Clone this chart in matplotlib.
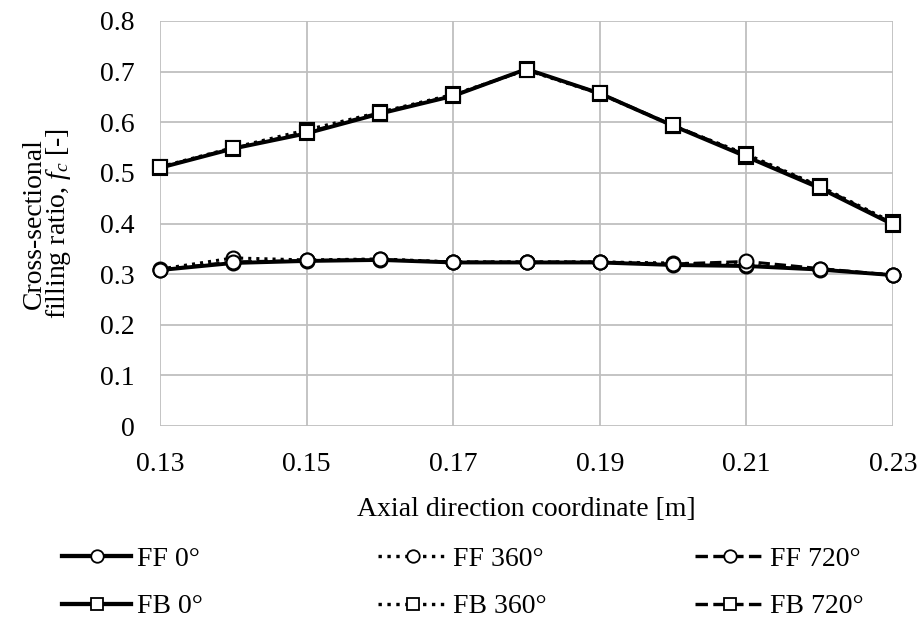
import matplotlib
matplotlib.use("Agg")
import matplotlib.pyplot as plt

plt.rcParams["font.family"] = ["Liberation Serif", "DejaVu Serif"]
plt.rcParams["mathtext.fontset"] = "custom"
plt.rcParams["mathtext.rm"] = "Liberation Serif"
plt.rcParams["mathtext.it"] = "Liberation Serif:italic"

# axial positions [m]
x = [0.13, 0.14, 0.15, 0.16, 0.17, 0.18, 0.19, 0.20, 0.21, 0.22, 0.23]

ff_0 = [0.308, 0.322, 0.326, 0.328, 0.323, 0.323, 0.323, 0.318, 0.316, 0.309, 0.298]
ff_360 = [0.310, 0.332, 0.328, 0.330, 0.324, 0.324, 0.324, 0.322, 0.318, 0.310, 0.298]
ff_720 = [0.309, 0.324, 0.327, 0.329, 0.324, 0.324, 0.324, 0.320, 0.325, 0.311, 0.298]

fb_0 = [0.510, 0.548, 0.578, 0.617, 0.652, 0.705, 0.657, 0.593, 0.532, 0.470, 0.398]
fb_360 = [0.512, 0.550, 0.585, 0.620, 0.655, 0.703, 0.656, 0.593, 0.537, 0.474, 0.402]
fb_720 = [0.511, 0.549, 0.580, 0.619, 0.653, 0.704, 0.657, 0.594, 0.535, 0.473, 0.400]

labels = ["FF 0°", "FF 360°", "FF 720°", "FB 0°", "FB 360°", "FB 720°"]

FS = 20
fig = plt.figure(figsize=(9.2, 6.2), dpi=100)
ax = fig.add_axes([160 / 920, 1 - 426 / 620, (893 - 160) / 920, (426 - 21) / 620])

styles = [
    (ff_0, "o", "-", 2.8),
    (ff_360, "o", ":", 2.2),
    (ff_720, "o", "--", 2.2),
    (fb_0, "s", "-", 2.8),
    (fb_360, "s", ":", 2.2),
    (fb_720, "s", "--", 2.2),
]
for (ys, mk, ls, lw), lab in zip(styles, labels):
    ax.plot(x, ys, color="black", linestyle=ls, linewidth=lw, marker=mk,
            markersize=10, markerfacecolor="white", markeredgecolor="black",
            markeredgewidth=1.5, label=lab, zorder=3, clip_on=False)

ax.set_xlim(0.13, 0.23)
ax.set_ylim(0, 0.8)
ax.set_xticks([0.13, 0.15, 0.17, 0.19, 0.21, 0.23])
ax.set_xticklabels(["0.13", "0.15", "0.17", "0.19", "0.21", "0.23"])
ax.set_yticks([0, 0.1, 0.2, 0.3, 0.4, 0.5, 0.6, 0.7, 0.8])
ax.set_yticklabels(["0", "0.1", "0.2", "0.3", "0.4", "0.5", "0.6", "0.7", "0.8"])
ax.grid(True, color="#bfbfbf", linewidth=1.3)
ax.set_axisbelow(True)
for s in ax.spines.values():
    s.set_visible(False)
ax.tick_params(length=0, labelsize=FS)
ax.tick_params(axis="y", pad=18)
ax.tick_params(axis="x", pad=19)

ax.set_xlabel("Axial direction coordinate [m]", fontsize=FS, labelpad=14)
ax.set_ylabel("Cross-sectional\nfilling ratio, $f_c$ [-]", fontsize=FS, labelpad=20,
              linespacing=0.85)

# legend: three columns placed like the original
col_x = [62 / 920, 378 / 920, 695 / 920]
for c in range(3):
    hs = []
    for i in (c, c + 3):
        ys, mk, ls, lw = styles[i]
        h, = ax.plot([], [], color="black", linestyle=ls, linewidth=lw * 1.1,
                     marker=mk, markersize=9, markerfacecolor="white",
                     markeredgecolor="black", markeredgewidth=1.3, label=labels[i])
        hs.append(h)
    leg = fig.legend(hs, [labels[c], labels[c + 3]], loc="center left",
                     bbox_to_anchor=(col_x[c], 1 - 583 / 620), frameon=False,
                     fontsize=FS, handlelength=2.5, handletextpad=0.2,
                     labelspacing=0.78, borderpad=0, borderaxespad=0)

fig.savefig("out.png", dpi=100)
